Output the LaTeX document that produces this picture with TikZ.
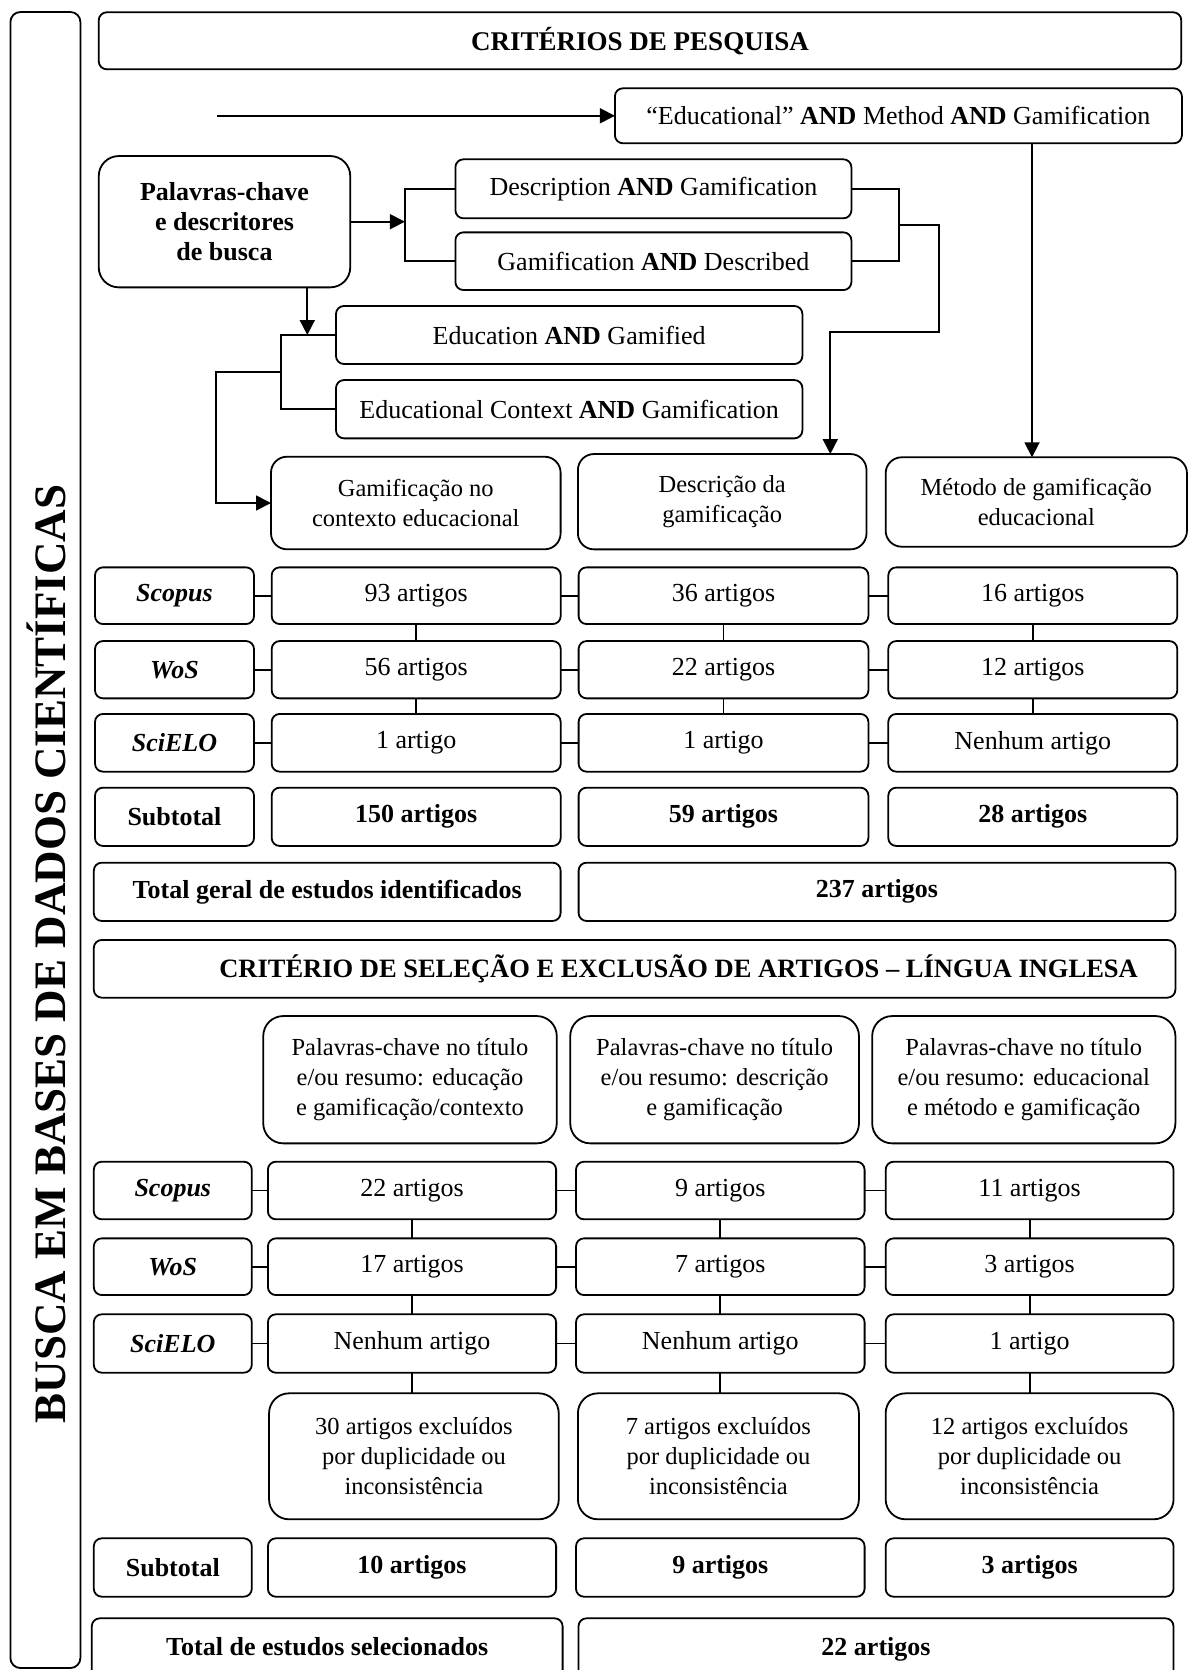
\documentclass[tikz,border=0pt]{standalone}
\usepackage{fontspec}
\setmainfont{Liberation Serif}
\usetikzlibrary{arrows.meta}
\newcommand\fz[1]{\fontsize{#1}{30}\selectfont}
\tikzset{
  bx/.style={draw, line width=1.8pt, rounded corners=8pt, inner sep=0pt, outer sep=0pt, align=center, font=\fz{26}},
  sz/.style 2 args={minimum width=#1pt, minimum height=#2pt},
  bigr/.style={rounded corners=20pt},
  midr/.style={rounded corners=16pt},
  ttl/.style={font=\fz{26}\bfseries},
  lab/.style={font=\fz{26}\bfseries\itshape},
  small/.style={font=\fz{24.5}},
  ln/.style={line width=1.8pt},
  ar/.style={line width=1.8pt, -{Triangle[length=15pt,width=15pt]}},
}
\begin{document}
\begin{tikzpicture}[x=1pt,y=-1pt]
\clip (0,0) rectangle (1188,1670);
% left tall box
\node[bx, sz={70}{1656}, rounded corners=10pt] (tall) at (45.4,840) {};
\node[font=\bfseries\fontsize{45}{50}\selectfont, rotate=90, inner sep=0pt] (vtext) at (46,954) {BUSCA EM BASES DE DADOS CIENTÍFICAS};
% header
\node[bx, sz={1082.5}{57}, font=\fz{27}\bfseries] (head1) at (640,40.8) {CRITÉRIOS DE PESQUISA};
\coordinate (astart) at (217.4,115.8);
\node[bx, sz={567}{55}] (edu) at (898.4,115.8) {“Educational” \textbf{AND} Method \textbf{AND} Gamification};
\node[bx, sz={251.5}{131.3}, bigr, ttl] (pal) at (224.5,221.7) {Palavras-chave\\e descritores\\de busca};
\node[bx, sz={396}{59}] (desc) at (653.4,188.8) {Description \textbf{AND} Gamification};
\node[bx, sz={396}{57.7}] (gdesc) at (653.4,261.2) {Gamification \textbf{AND} Described};
\node[bx, sz={466.4}{58}] (egam) at (569.2,335) {Education \textbf{AND} Gamified};
\node[bx, sz={466.4}{58.3}] (econ) at (569.2,409.2) {Educational Context \textbf{AND} Gamification};
\node[bx, sz={289.6}{92.6}, midr, small] (cat1) at (415.8,503) {Gamificação no\\contexto educacional};
\node[bx, sz={288.6}{95.3}, midr, small] (cat2) at (722.2,501.7) {Descrição da\\gamificação};
\node[bx, sz={301.3}{89.4}, midr, small] (cat3) at (1036.3,502) {Método de gamificação\\educacional};
% connectors top
\draw[ar] (astart) -- (edu.west);
\coordinate (brL) at (404.9,0);
\draw[ar] (pal.east) -- (pal.east -| brL);
\draw[ln] (desc.west) -- (desc.west -| brL) -- (gdesc.west -| brL) -- (gdesc.west);
\coordinate (brR) at (898.9,0);
\coordinate (rr) at (939,0);
\coordinate (rd) at (830.3,332.3);
\coordinate (j1) at (898.9,224.7);
\draw[ln] (desc.east) -- (desc.east -| brR) -- (gdesc.east -| brR) -- (gdesc.east);
\draw[ar] (j1) -- (j1 -| rr) -- (rr |- rd) -- (rd) -- (rd |- cat2.north);
\coordinate (ex) at (1032,0);
\draw[ar] (edu.south -| ex) -- (cat3.north -| ex);
\coordinate (px) at (307.3,0);
\coordinate (lb) at (281.3,0);
\draw[ar] (pal.south -| px) -- (px |- egam.west);
\draw[ln] (egam.west) -- (egam.west -| lb) -- (econ.west -| lb) -- (econ.west);
\coordinate (j2) at (281.3,372);
\coordinate (lx) at (216.2,0);
\draw[ar] (j2) -- (j2 -| lx) -- (lx |- cat1.west) -- (cat1.west);
% section 1 rows
\node[bx, sz={159}{56.7}, lab] (ls1) at (174.5,595.7) {Scopus};
\node[bx, sz={289}{56.7}] (s1a) at (416.2,595.7) {93 artigos};
\node[bx, sz={289.8}{56.7}] (s1b) at (723.5,595.7) {36 artigos};
\node[bx, sz={289}{56.7}] (s1c) at (1032.8,595.7) {16 artigos};
\node[bx, sz={159}{57.3}, lab] (lw1) at (174.5,669.7) {WoS};
\node[bx, sz={289}{57.3}] (w1a) at (416.2,669.7) {56 artigos};
\node[bx, sz={289.8}{57.3}] (w1b) at (723.5,669.7) {22 artigos};
\node[bx, sz={289}{57.3}] (w1c) at (1032.8,669.7) {12 artigos};
\node[bx, sz={159}{57.7}, lab] (le1) at (174.5,742.8) {SciELO};
\node[bx, sz={289}{57.7}] (e1a) at (416.2,742.8) {1 artigo};
\node[bx, sz={289.8}{57.7}] (e1b) at (723.5,742.8) {1 artigo};
\node[bx, sz={289}{57.7}] (e1c) at (1032.8,742.8) {Nenhum artigo};
\node[bx, sz={159}{58.3}, ttl] (lt1) at (174.5,816.8) {Subtotal};
\node[bx, sz={289}{58.3}, ttl] (t1a) at (416.2,816.8) {150 artigos};
\node[bx, sz={289.8}{58.3}, ttl] (t1b) at (723.5,816.8) {59 artigos};
\node[bx, sz={289}{58.3}, ttl] (t1c) at (1032.8,816.8) {28 artigos};
\node[bx, sz={466.8}{58.3}, ttl] (g1l) at (327.2,891.8) {Total geral de estudos identificados};
\node[bx, sz={596.8}{58.3}, ttl] (g1r) at (877,891.8) {237 artigos};
\foreach \r in {s1,w1,e1}{
  \draw[ln] (l\r.east) -- (\r a.west);
  \draw[ln] (\r a.east) -- (\r b.west);
  \draw[ln] (\r b.east) -- (\r c.west);
}
\foreach \c in {a,b,c}{
  \draw[ln] (s1\c.south) -- (w1\c.north);
  \draw[ln] (w1\c.south) -- (e1\c.north);
}
% section 2
\node[bx, sz={1081.6}{57.7}, font=\fz{26.5}\bfseries] (head2) at (634.6,968.8) {\hspace*{88pt}CRITÉRIO DE SELEÇÃO E EXCLUSÃO DE ARTIGOS – LÍNGUA INGLESA};
\node[bx, sz={293.5}{127.3}, bigr, small] (k2a) at (410,1079.7) {Palavras-chave no título\\e/ou resumo: educação\\e gamificação/contexto};
\node[bx, sz={288.7}{127.3}, bigr, small] (k2b) at (714.6,1079.7) {Palavras-chave no título\\e/ou resumo: descrição\\e gamificação};
\node[bx, sz={303.2}{127.3}, bigr, small] (k2c) at (1023.8,1079.7) {Palavras-chave no título\\e/ou resumo: educacional\\e método e gamificação};
\node[bx, sz={158}{57.6}, lab] (ls2) at (172.8,1190.5) {Scopus};
\node[bx, sz={288.2}{57.6}] (s2a) at (412,1190.5) {22 artigos};
\node[bx, sz={288.6}{57.6}] (s2b) at (720.3,1190.5) {9 artigos};
\node[bx, sz={287.9}{57.6}] (s2c) at (1029.6,1190.5) {11 artigos};
\node[bx, sz={158}{56.7}, lab] (lw2) at (172.8,1266.7) {WoS};
\node[bx, sz={288.2}{56.7}] (w2a) at (412,1266.7) {17 artigos};
\node[bx, sz={288.6}{56.7}] (w2b) at (720.3,1266.7) {7 artigos};
\node[bx, sz={287.9}{56.7}] (w2c) at (1029.6,1266.7) {3 artigos};
\node[bx, sz={158}{58.4}, lab] (le2) at (172.8,1343.5) {SciELO};
\node[bx, sz={288.2}{58.4}] (e2a) at (412,1343.5) {Nenhum artigo};
\node[bx, sz={288.6}{58.4}] (e2b) at (720.3,1343.5) {Nenhum artigo};
\node[bx, sz={287.9}{58.4}] (e2c) at (1029.6,1343.5) {1 artigo};
\node[bx, sz={289.7}{126}, bigr, small] (x2a) at (413.9,1456.3) {30 artigos excluídos\\por duplicidade ou\\inconsistência};
\node[bx, sz={281}{126}, bigr, small] (x2b) at (718.4,1456.3) {7 artigos excluídos\\por duplicidade ou\\inconsistência};
\node[bx, sz={287.9}{126}, bigr, small] (x2c) at (1029.6,1456.3) {12 artigos excluídos\\por duplicidade ou\\inconsistência};
\node[bx, sz={158}{58.4}, ttl] (lt2) at (172.8,1567.5) {Subtotal};
\node[bx, sz={288.2}{58.4}, ttl] (t2a) at (412,1567.5) {10 artigos};
\node[bx, sz={288.6}{58.4}, ttl] (t2b) at (720.3,1567.5) {9 artigos};
\node[bx, sz={287.9}{58.4}, ttl] (t2c) at (1029.6,1567.5) {3 artigos};
\node[bx, sz={470.8}{91.4}, ttl, text height=18pt, text depth=36pt] (g2l) at (327.2,1664) {Total de estudos selecionados};
\node[bx, sz={595}{91.4}, ttl, text height=18pt, text depth=36pt] (g2r) at (876,1664) {22 artigos};
\foreach \r in {s2,w2,e2}{
  \draw[ln] (l\r.east) -- (\r a.west);
  \draw[ln] (\r a.east) -- (\r b.west);
  \draw[ln] (\r b.east) -- (\r c.west);
}
\foreach \c in {a,b,c}{
  \draw[ln] (s2\c.south) -- (w2\c.north);
  \draw[ln] (w2\c.south) -- (e2\c.north);
  \draw[ln] (e2\c.south) -- (e2\c.south |- x2\c.north);
}
\end{tikzpicture}
\end{document}
